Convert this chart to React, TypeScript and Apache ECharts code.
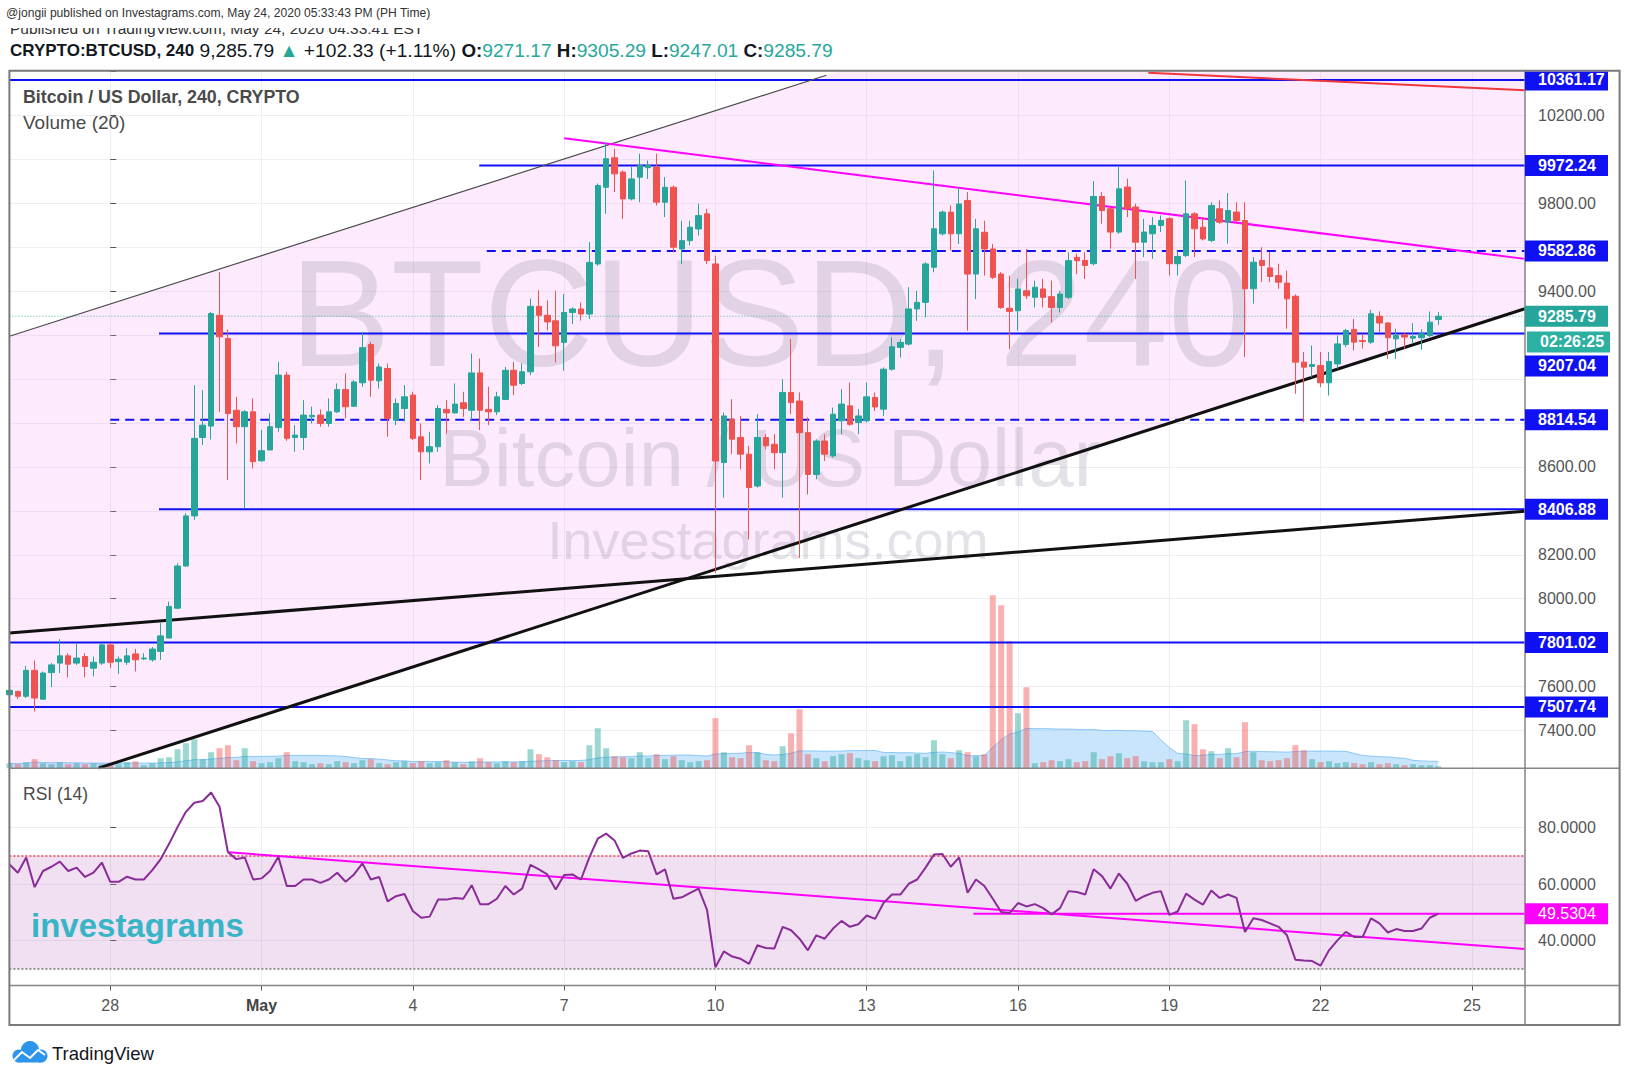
import React, { useEffect, useRef } from 'react';
import * as echarts from 'echarts';

// ---------------- DATA (4-hour bars; bar index 0 = Apr 28 00:00) ----------------
const FIRST_BAR = -12;

const opens = [
  7563, 7578, 7556, 7674, 7543, 7664, 7707, 7740, 7707, 7737, 7684, 7707,
  7790, 7714, 7711, 7749, 7726, 7722, 7760, 7821, 7957, 8149, 8377, 8734,
  8786, 9290, 9184, 8858, 8783, 8851, 8628, 8677, 8780, 9018, 8734, 8734,
  8828, 8836, 8798, 8851, 8952, 8876, 8983, 9157, 8992, 9048, 8813, 8866,
  8927, 8737, 8669, 8692, 8862, 8846, 8892, 8858, 9028, 8862, 8851, 8907,
  9040, 8980, 9033, 9331, 9290, 9265, 9167, 9303, 9319, 9296, 9524, 9873,
  10007, 9942, 9820, 9919, 9962, 9965, 9805, 9873, 9592, 9630, 9683, 9752,
  9524, 8620, 8817, 8734, 8658, 8513, 8734, 8703, 8665, 8939, 8900, 8756,
  8566, 8718, 8650, 8810, 8878, 8802, 8810, 8916, 8863, 9045, 9144, 9159,
  9319, 9349, 9509, 9661, 9760, 9661, 9813, 9478, 9668, 9592, 9478, 9322,
  9311, 9402, 9372, 9410, 9375, 9326, 9372, 9554, 9540, 9525, 9831, 9775,
  9669, 9874, 9783, 9623, 9661, 9699, 9730, 9525, 9562, 9752, 9691, 9631,
  9775, 9714, 9760, 9722, 9411, 9540, 9506, 9471, 9437, 9377, 9077, 9057,
  9062, 8983, 9069, 9157, 9226, 9175, 9168, 9286, 9255, 9183, 9201, 9186,
  9188, 9198, 9271.17,
];
const closes = [
  7583, 7556, 7674, 7548, 7662, 7699, 7740, 7702, 7730, 7692, 7711, 7790,
  7711, 7725, 7740, 7722, 7730, 7771, 7831, 7965, 8149, 8377, 8730, 8790,
  9298, 9192, 8843, 8783, 8851, 8624, 8674, 8783, 9018, 8730, 8745, 8836,
  8835, 8798, 8851, 8952, 8874, 8987, 9143, 8995, 9055, 8821, 8889, 8919,
  8730, 8669, 8692, 8866, 8846, 8886, 8866, 9028, 8858, 8851, 8919, 9040,
  8972, 9033, 9331, 9290, 9260, 9151, 9303, 9319, 9296, 9531, 9881, 10003,
  9934, 9820, 9911, 9972, 9972, 9805, 9873, 9600, 9630, 9691, 9744, 9539,
  8627, 8832, 8726, 8658, 8506, 8734, 8696, 8665, 8939, 8893, 8756, 8566,
  8718, 8658, 8840, 8886, 8794, 8832, 8919, 8873, 9045, 9147, 9167, 9319,
  9349, 9524, 9684, 9760, 9661, 9797, 9478, 9684, 9592, 9463, 9326, 9308,
  9410, 9379, 9418, 9372, 9326, 9387, 9539, 9539, 9517, 9831, 9767, 9669,
  9866, 9775, 9623, 9669, 9699, 9722, 9525, 9558, 9752, 9684, 9638, 9790,
  9714, 9767, 9722, 9411, 9532, 9517, 9467, 9441, 9365, 9077, 9054, 9066,
  8983, 9080, 9160, 9221, 9168, 9171, 9297, 9255, 9188, 9198, 9191, 9194,
  9206, 9259, 9285.79,
];
const lows = [
  7555, 7543, 7548, 7487, 7540, 7598, 7662, 7642, 7699, 7642, 7647, 7699,
  7684, 7658, 7699, 7669, 7722, 7714, 7722, 7821, 7952, 8146, 8359, 8700,
  8725, 8851, 8540, 8707, 8412, 8593, 8624, 8677, 8760, 8719, 8669, 8677,
  8798, 8783, 8783, 8846, 8821, 8874, 8965, 8919, 8957, 8737, 8790, 8806,
  8722, 8540, 8616, 8669, 8752, 8843, 8828, 8813, 8768, 8790, 8836, 8904,
  8927, 8972, 9018, 9146, 9222, 9076, 9038, 9250, 9266, 9273, 9516, 9752,
  9851, 9729, 9813, 9805, 9911, 9790, 9737, 9577, 9524, 9608, 9653, 9524,
  8117, 8460, 8658, 8589, 8270, 8506, 8681, 8589, 8460, 8840, 8186, 8475,
  8544, 8627, 8642, 8749, 8787, 8749, 8802, 8855, 8832, 9038, 9098, 9152,
  9265, 9281, 9486, 9653, 9585, 9615, 9220, 9364, 9471, 9455, 9319, 9136,
  9220, 9364, 9326, 9326, 9258, 9303, 9364, 9478, 9456, 9517, 9707, 9593,
  9661, 9737, 9456, 9555, 9547, 9669, 9471, 9471, 9555, 9555, 9631, 9623,
  9707, 9616, 9714, 9100, 9343, 9441, 9441, 9411, 9229, 8933, 8804, 9009,
  8963, 8925, 9047, 9145, 9130, 9138, 9160, 9214, 9092, 9092, 9138, 9160,
  9133, 9191, 9247.01,
];
const highs = [
  7590, 7582, 7695, 7719, 7669, 7707, 7816, 7752, 7798, 7752, 7737, 7798,
  7798, 7737, 7775, 7772, 7752, 7780, 7889, 7987, 8161, 8389, 8972, 8950,
  9306, 9487, 9225, 8919, 8859, 8912, 8768, 8843, 9078, 9033, 8790, 8904,
  8874, 8862, 8912, 8980, 9025, 8995, 9215, 9169, 9071, 9071, 8912, 8972,
  8942, 8798, 8760, 8881, 8904, 8980, 8942, 9116, 9093, 8965, 8942, 9055,
  9078, 9071, 9366, 9404, 9358, 9402, 9387, 9326, 9349, 9623, 9890, 10079,
  10048, 9950, 9965, 10026, 9995, 10026, 9919, 9881, 9721, 9721, 9798, 9775,
  9562, 8848, 8908, 8832, 8696, 8840, 8749, 8749, 8999, 9182, 8939, 8825,
  8726, 8749, 8870, 8954, 8984, 8863, 8984, 8939, 9053, 9190, 9182, 9418,
  9402, 9532, 9950, 9767, 9790, 9873, 9851, 9729, 9721, 9615, 9486, 9471,
  9456, 9592, 9448, 9456, 9448, 9402, 9577, 9570, 9578, 9901, 9851, 9783,
  9965, 9912, 9798, 9729, 9737, 9745, 9737, 9585, 9904, 9760, 9737, 9805,
  9813, 9846, 9805, 9805, 9555, 9600, 9578, 9525, 9494, 9385, 9123, 9153,
  9123, 9123, 9198, 9229, 9274, 9206, 9315, 9308, 9259, 9229, 9214, 9254,
  9226, 9308, 9305.29,
];
// relative volume (same units as VOLUME_AXIS_MAX)
const volumes = [
  5, 4, 6, 9, 5, 4, 6, 4, 5, 4, 5, 4,
  5, 4, 6, 7, 3, 5, 10, 11, 19, 25, 29, 9,
  16, 20, 23, 8, 20, 7, 5, 6, 10, 16, 7, 6,
  4, 5, 4, 7, 6, 5, 8, 9, 5, 4, 6, 7,
  5, 7, 5, 6, 8, 6, 4, 7, 10, 6, 5, 7,
  6, 7, 19, 14, 11, 8, 6, 7, 6, 23, 40, 20,
  12, 11, 10, 16, 10, 14, 9, 12, 8, 6, 7, 8,
  50, 16, 11, 10, 23, 16, 8, 7, 22, 35, 59, 14,
  10, 7, 12, 14, 15, 10, 8, 7, 12, 13, 7, 12,
  14, 11, 28, 14, 10, 18, 16, 12, 14, 173, 163, 127,
  55, 81, 5, 6, 8, 7, 9, 6, 7, 16, 9, 12,
  15, 10, 12, 7, 6, 6, 9, 7, 48, 44, 19, 17,
  10, 20, 11, 46, 16, 8, 7, 8, 10, 23, 18, 9,
  6, 7, 5, 6, 5, 4, 6, 4, 5, 4, 3, 4,
  3, 3, 2,
];
const rsiValues = [
  67.0, 64.0, 69.4, 58.9, 64.6, 66.1, 67.9, 64.6, 65.8, 62.5, 64.0, 67.6,
  60.8, 60.8, 62.6, 61.6, 61.6, 64.9, 68.8, 74.2, 80.1, 85.5, 88.7, 89.3,
  92.3, 87.3, 71.2, 68.8, 69.4, 61.6, 62.0, 64.6, 69.6, 59.3, 59.3, 61.6,
  61.6, 60.4, 61.6, 64.0, 60.8, 63.4, 67.3, 61.6, 62.5, 53.9, 55.7, 56.5,
  50.5, 48.1, 48.5, 54.5, 54.5, 55.1, 54.8, 59.6, 52.9, 52.9, 54.8, 59.3,
  56.3, 58.4, 66.8, 65.2, 63.4, 58.1, 63.2, 63.4, 61.6, 69.4, 76.0, 77.8,
  75.4, 69.2, 70.8, 71.8, 71.6, 63.4, 65.2, 54.8, 55.3, 56.9, 58.4, 50.9,
  30.6, 36.2, 34.4, 33.6, 31.8, 38.4, 37.4, 37.2, 44.9, 43.7, 40.7, 36.6,
  41.9, 40.7, 44.3, 47.0, 44.9, 45.8, 48.9, 47.7, 53.3, 56.3, 56.3, 60.1,
  61.6, 65.8, 70.4, 70.6, 66.1, 69.4, 56.9, 61.6, 59.3, 54.8, 50.1, 49.7,
  53.3, 52.1, 52.9, 51.5, 49.3, 51.5, 57.5, 57.2, 56.3, 65.2, 62.8, 58.4,
  63.7, 60.1, 54.1, 55.7, 56.9, 57.5, 49.1, 50.3, 56.6, 54.5, 52.7, 57.7,
  55.1, 56.3, 55.1, 43.1, 47.9, 47.3, 46.1, 44.9, 41.9, 33.3, 33.0, 32.8,
  31.2, 36.6, 40.1, 43.1, 41.3, 41.3, 47.9, 46.1, 42.9, 44.1, 43.4, 43.4,
  44.3, 48.1, 49.5304,
];

const dayTickBars = [0, 18, 36, 54, 72, 90, 108, 126, 144, 162];
const dayTickLabels = ['28', 'May', '4', '7', '10', '13', '16', '19', '22', '25'];
const priceGridValues = [7400, 7600, 7800, 8000, 8200, 8400, 8600, 8800, 9000, 9200, 9400, 9600, 9800, 10000, 10200, 10400];
const priceLabelValues = [7400, 7600, 8000, 8200, 8600, 9400, 9800, 10200];
const rsiLabelValues = [40, 60, 80];

const levelPrices = [10361.17, 9972.24, 9582.86, 9207.04, 8814.54, 8406.88, 7801.02, 7507.74];
const levelStartBars = [-12, 43.9, 44.8, 5.8, 0, 5.8, -12, -12];
const levelDashed = [false, false, true, false, true, false, false, false];

const lastPrice = 9285.79;
const lastRsi = 49.5304;
const countdownText = '02:26:25';

const upperChannelLine = [[-12, 9195], [85.2, 10383]];
const lowerChannelLine = [[-1.4, 7229], [168.3, 9320]];
const flatSupportLine = [[-12, 7844], [168.3, 8398]];
const resistanceLine = [[54.0, 10096], [168.3, 9547]];
const topRedLine = [[123.5, 10394], [168.3, 10314]];
const rsiTrendLine = [[14.1, 71.2], [168.3, 37.1]];
const rsiLevelStartBar = 102.7;

// ---------------- LAYOUT / STYLE ----------------
const PANE_LEFT = 9.4;
const AXIS_X = 1525;
const PANE_TOP = 70.7;
const MAIN_BOTTOM = 768.2;
const RSI_BOTTOM = 985.5;
const OUTER_RIGHT = 1619.6;
const OUTER_BOTTOM = 1025;
const X_MIN = -12;
const X_MAX = 168.32;
const PRICE_MIN = 7228.7;
const PRICE_MAX = 10403.5;
const RSI_MIN = 24.18;
const RSI_MAX = 100.9;
const VOLUME_AXIS_MAX = 697.5;
const BOX_W = 83;
const BOX_H = 21;
const levelLabelShift = [0, 0, 0, 32.4, 0, 0, 0, 0];

const UP = '#26a69a';
const DOWN = '#ef5350';
const BLUE = '#1010f5';
const MAGENTA = '#ff00ff';
const FONT = "'Liberation Sans', Arial, sans-serif";

const lineAt = (line: number[][], k: number) => {
  const [[x1, y1], [x2, y2]] = line;
  return y1 + ((y2 - y1) * (k - x1)) / (x2 - x1);
};

function segment(name: string, data: number[][], color: string, width: number, xi: number, yi: number, z: number, type: any = 'solid') {
  return {
    type: 'line', name, xAxisIndex: xi, yAxisIndex: yi, data, symbol: 'none', silent: true, z,
    clip: true, lineStyle: { color, width, type }, animation: false,
  };
}

function buildOption() {
  const bars = opens.map((_, i) => i + FIRST_BAR);
  const candleData = opens.map((o, i) => [bars[i], o, closes[i], lows[i], highs[i]]);
  const volumeMA = volumes.map((_, i) => {
    const w = volumes.slice(Math.max(0, i - 19), i + 1);
    return w.reduce((a, b) => a + b, 0) / w.length;
  });
  const channelPolygon = [
    [-20, lineAt(upperChannelLine, -20)],
    [220, lineAt(upperChannelLine, 220)],
    [220, lineAt(lowerChannelLine, 220)],
    [-20, lineAt(lowerChannelLine, -20)],
  ];

  const series: any[] = [
    {
      type: 'custom', name: 'channel', xAxisIndex: 0, yAxisIndex: 0, z: 1, silent: true, clip: true,
      data: [[0, 9000]],
      renderItem: (_p: any, api: any) => ({
        type: 'polygon',
        shape: { points: channelPolygon.map((p) => api.coord(p)) },
        style: { fill: 'rgba(245,165,245,0.22)' },
      }),
    },
    {
      type: 'line', name: 'Volume MA', xAxisIndex: 0, yAxisIndex: 1, z: 3, symbol: 'none', silent: true,
      data: volumeMA.map((v, i) => [bars[i], v]),
      lineStyle: { width: 1, color: 'rgba(100,181,246,0.7)' },
      areaStyle: { color: 'rgba(100,181,246,0.5)' },
    },
    {
      type: 'bar', name: 'Volume', xAxisIndex: 0, yAxisIndex: 1, z: 4, barWidth: 6, silent: true,
      data: volumes.map((v, i) => ({
        value: [bars[i], v],
        itemStyle: { color: closes[i] >= opens[i] ? 'rgba(38,166,154,0.45)' : 'rgba(239,83,80,0.45)' },
      })),
    },
    segment('last', [[X_MIN, lastPrice], [X_MAX, lastPrice]], 'rgba(38,166,154,0.8)', 1, 0, 0, 5, [1, 2]),
  ];
  levelPrices.forEach((p, i) => {
    series.push(segment('level' + i, [[levelStartBars[i], p], [X_MAX, p]], BLUE, 2, 0, 0, 5, levelDashed[i] ? [9, 6] : 'solid'));
  });
  series.push(segment('upper', upperChannelLine, '#4a4a4a', 1.2, 0, 0, 5));
  series.push(segment('lower', lowerChannelLine, '#111', 3, 0, 0, 5));
  series.push(segment('flat', flatSupportLine, '#111', 3, 0, 0, 5));
  series.push(segment('resistance', resistanceLine, MAGENTA, 2, 0, 0, 5));
  series.push(segment('topRed', topRedLine, '#f0383c', 2, 0, 0, 5));
  series.push({
    type: 'candlestick', name: 'BTCUSD', xAxisIndex: 0, yAxisIndex: 0, z: 6, barWidth: 6, silent: true,
    data: candleData,
    itemStyle: { color: UP, color0: DOWN, borderColor: UP, borderColor0: DOWN, borderWidth: 1 },
  });
  // RSI pane
  series.push({
    type: 'line', name: 'RSI', xAxisIndex: 1, yAxisIndex: 2, z: 6, symbol: 'none', silent: true,
    data: rsiValues.map((v, i) => [bars[i], v]),
    lineStyle: { color: '#8a2c97', width: 2 },
    markArea: { silent: true, itemStyle: { color: 'rgba(180,100,190,0.2)' }, data: [[{ yAxis: 30 }, { yAxis: 70 }]] },
    markLine: {
      silent: true, symbol: 'none', label: { show: false },
      data: [
        { yAxis: 70, lineStyle: { color: '#f23645', type: [2, 2], width: 1.5 } },
        { yAxis: 30, lineStyle: { color: '#777', type: [2, 2], width: 1.5 } },
      ],
    },
  });
  series.push(segment('rsiTrend', rsiTrendLine, MAGENTA, 2, 1, 2, 5));
  series.push(segment('rsiLevel', [[rsiLevelStartBar, lastRsi], [X_MAX, lastRsi]], MAGENTA, 2, 1, 2, 5));

  const gridLine = { show: true, lineStyle: { color: '#eceef2', width: 1 } };
  const dayLabel = (v: number) => {
    const i = dayTickBars.findIndex((d) => Math.abs(d - v) < 0.01);
    const s = i >= 0 ? dayTickLabels[i] : '';
    return s === 'May' ? '{b|May}' : s;
  };

  return {
    animation: false,
    backgroundColor: '#ffffff',
    textStyle: { fontFamily: FONT },
    grid: [
      { left: PANE_LEFT, top: PANE_TOP, width: AXIS_X - PANE_LEFT, height: MAIN_BOTTOM - PANE_TOP, containLabel: false, outerBoundsMode: 'none' },
      { left: PANE_LEFT, top: MAIN_BOTTOM, width: AXIS_X - PANE_LEFT, height: RSI_BOTTOM - MAIN_BOTTOM, containLabel: false, outerBoundsMode: 'none' },
    ],
    xAxis: [
      {
        gridIndex: 0, type: 'value', min: X_MIN, max: X_MAX,
        axisLine: { show: false },
        axisTick: { show: false, customValues: dayTickBars },
        axisLabel: { show: false, customValues: dayTickBars },
        splitLine: gridLine,
      },
      {
        gridIndex: 1, type: 'value', min: X_MIN, max: X_MAX, position: 'bottom',
        axisLine: { show: false },
        axisTick: { show: true, customValues: dayTickBars, length: 5, lineStyle: { color: '#555' } },
        axisLabel: {
          customValues: dayTickBars, formatter: dayLabel, margin: 12,
          color: '#555', fontSize: 16, fontFamily: FONT,
          rich: { b: { fontWeight: 'bold', color: '#444', fontSize: 16, fontFamily: FONT } },
        },
        splitLine: gridLine,
      },
    ],
    yAxis: [
      {
        gridIndex: 0, type: 'value', position: 'right', min: PRICE_MIN, max: PRICE_MAX,
        axisLine: { show: false },
        axisTick: { show: true, customValues: priceGridValues, length: 6, lineStyle: { color: '#555' } },
        axisLabel: { customValues: priceLabelValues, formatter: (v: number) => v.toFixed(2), margin: 13, color: '#555', fontSize: 16, fontFamily: FONT },
        splitLine: gridLine,
      },
      { gridIndex: 0, type: 'value', min: 0, max: VOLUME_AXIS_MAX, show: false, splitLine: { show: false } },
      {
        gridIndex: 1, type: 'value', position: 'right', min: RSI_MIN, max: RSI_MAX,
        axisLine: { show: false },
        axisTick: { show: true, customValues: rsiLabelValues, length: 6, lineStyle: { color: '#555' } },
        axisLabel: { customValues: rsiLabelValues, formatter: (v: number) => v.toFixed(4), margin: 13, color: '#555', fontSize: 16, fontFamily: FONT },
        splitLine: gridLine,
      },
    ],
    series,
  };
}

function box(x: number, yc: number, fill: string, text: string, bold: boolean, top?: number) {
  const t = top !== undefined ? Math.max(yc - BOX_H / 2, top) : yc - BOX_H / 2;
  const h = yc + BOX_H / 2 - t;
  return [
    { type: 'rect', z: 40, silent: true, shape: { x, y: t, width: BOX_W, height: h }, style: { fill } },
    {
      type: 'text', z: 41, silent: true, x: x + 13, y: yc,
      style: { text, fill: '#ffffff', fontSize: 16, fontWeight: bold ? 'bold' : 'normal', fontFamily: FONT, textAlign: 'left', textVerticalAlign: 'middle' },
    },
  ];
}

function buildGraphics(chart: any) {
  const yP = (p: number) => chart.convertToPixel({ yAxisIndex: 0 }, p);
  const yR = (v: number) => chart.convertToPixel({ yAxisIndex: 2 }, v);
  const els: any[] = [];
  const txt = (x: number, y: number, text: string, size: number, fill: string, weight = 'normal', z = 42, align = 'left') => ({
    type: 'text', x, y, z, silent: true,
    style: { text, fontSize: size, fill, fontWeight: weight, fontFamily: FONT, textAlign: align, textVerticalAlign: 'middle' },
  });

  // header (second line is partly hidden under the first, as in the export)
  els.push(txt(10, 28.8, 'Published on TradingView.com, May 24, 2020 04:33:41 EST', 15.5, '#333', 'normal', 40));
  els.push({ type: 'rect', z: 41, silent: true, shape: { x: 0, y: 0, width: 900, height: 28 }, style: { fill: '#fff' } });
  els.push(txt(6, 13.3, '@jongii published on Investagrams.com, May 24, 2020 05:33:43 PM (PH Time)', 12.1, '#333'));
  els.push({
    type: 'text', x: 10, y: 50, z: 42, silent: true,
    style: {
      text: '{b|CRYPTO:BTCUSD, 240}{n| 9,285.79 }{g|▲}{n| +102.33 (+1.11%) }{c|O:}{g|9271.17}{c| H:}{g|9305.29}{c| L:}{g|9247.01}{c| C:}{g|9285.79}',
      textVerticalAlign: 'middle', fontFamily: FONT, fontSize: 17,
      rich: {
        b: { fontWeight: 'bold', fill: '#131722', fontSize: 17, fontFamily: FONT },
        c: { fontWeight: 'bold', fill: '#131722', fontSize: 18.8, fontFamily: FONT },
        n: { fill: '#131722', fontSize: 19.2, fontFamily: FONT },
        g: { fill: '#27a79a', fontSize: 19.2, fontFamily: FONT },
      },
    },
  });

  // pane legends
  els.push(txt(23, 96.7, 'Bitcoin / US Dollar, 240, CRYPTO', 17.8, '#4a4a4a', 'bold'));
  els.push(txt(23, 122.7, 'Volume (20)', 19, '#4a4a4a'));
  els.push(txt(23, 794, 'RSI (14)', 17.5, '#4a4a4a'));

  // watermarks
  const wm = 'rgba(120,110,140,0.2)';
  els.push(txt(771, 313, 'BTCUSD, 240', 152, wm, 'normal', 2, 'center'));
  els.push(txt(770, 457, 'Bitcoin / US Dollar', 81.5, wm, 'normal', 2, 'center'));
  els.push(txt(768, 540, 'Investagrams.com', 54, wm, 'normal', 2, 'center'));
  els.push(txt(31, 925, 'investagrams', 33, '#36b5c6', 'bold', 7));

  // borders
  const ln = (x1: number, y1: number, x2: number, y2: number, w = 1.5, c = '#858585') => ({
    type: 'line', z: 30, silent: true, shape: { x1, y1, x2, y2 }, style: { stroke: c, lineWidth: w },
  });
  els.push({ type: 'rect', z: 30, silent: true, shape: { x: PANE_LEFT, y: PANE_TOP, width: OUTER_RIGHT - PANE_LEFT, height: OUTER_BOTTOM - PANE_TOP }, style: { fill: 'none', stroke: '#7a7a7a', lineWidth: 2 } });
  els.push(ln(PANE_LEFT, MAIN_BOTTOM, OUTER_RIGHT, MAIN_BOTTOM));
  els.push(ln(PANE_LEFT, RSI_BOTTOM, OUTER_RIGHT, RSI_BOTTOM));
  els.push(ln(AXIS_X, PANE_TOP, AXIS_X, OUTER_BOTTOM));

  // price level boxes
  levelPrices.forEach((p, i) => {
    els.push(...box(AXIS_X, yP(p) + levelLabelShift[i], BLUE, p.toFixed(2), true, PANE_TOP + 1));
  });
  const yLast = yP(lastPrice);
  els.push(...box(AXIS_X, yLast, UP, lastPrice.toFixed(2), true));
  els.push(...box(AXIS_X + 2, yLast + 25.7, '#2bb0a2', countdownText, true));
  els.push(...box(AXIS_X, yR(lastRsi), MAGENTA, lastRsi.toFixed(4), false));

  // TradingView logo
  const cloud = '#2d95ec';
  els.push({ type: 'circle', z: 42, silent: true, shape: { cx: 19, cy: 1056, r: 6.5 }, style: { fill: cloud } });
  els.push({ type: 'circle', z: 42, silent: true, shape: { cx: 30, cy: 1050, r: 9 }, style: { fill: cloud } });
  els.push({ type: 'circle', z: 42, silent: true, shape: { cx: 41, cy: 1056, r: 6.5 }, style: { fill: cloud } });
  els.push({ type: 'rect', z: 42, silent: true, shape: { x: 19, y: 1053, width: 22, height: 9.5 }, style: { fill: cloud } });
  els.push({ type: 'polyline', z: 43, silent: true, shape: { points: [[14, 1060], [22, 1052], [30, 1058], [38, 1050], [45, 1055]] }, style: { stroke: '#fff', lineWidth: 2, fill: 'none' } });
  els.push(txt(52, 1053, 'TradingView', 18.5, '#131722'));
  return els;
}

export default function App() {
  const ref = useRef<HTMLDivElement>(null);
  useEffect(() => {
    if (!ref.current) return;
    const chart = echarts.init(ref.current, null, { renderer: 'svg' });
    chart.setOption(buildOption() as any);
    chart.setOption({ graphic: { elements: buildGraphics(chart) } } as any);
    return () => chart.dispose();
  }, []);
  return (
    <div
      ref={ref}
      style={{ position: 'fixed', left: 0, top: 0, width: 1630, height: 1080, background: '#fff' }}
    />
  );
}
